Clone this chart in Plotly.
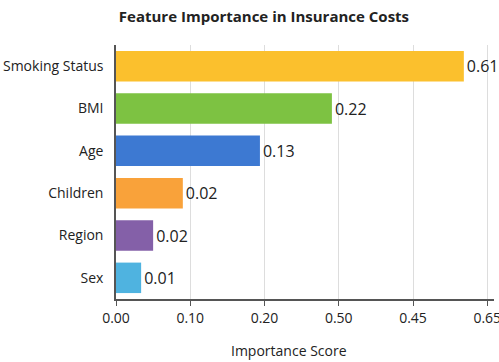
import plotly.graph_objects as go

features = ["Smoking Status", "BMI", "Age", "Children", "Region", "Sex"]
bar_lengths = [0.609, 0.378, 0.252, 0.117, 0.065, 0.044]
value_labels = ["0.61", "0.22", "0.13", "0.02", "0.02", "0.01"]
colors = ["#FBC02D", "#7DC242", "#3D79D2", "#F9A23A", "#8460A8", "#4FB3E0"]
tick_vals = [0.0, 0.13, 0.26, 0.39, 0.52, 0.65]
tick_text = ["0.00", "0.10", "0.20", "0.50", "0.45", "0.65"]

FONT = "Open Sans"

fig = go.Figure(go.Bar(
    y=features,
    x=bar_lengths,
    orientation="h",
    marker=dict(color=colors, line=dict(width=0)),
    text=value_labels,
    textposition="outside",
    textfont=dict(family=FONT, size=16, color="#222222"),
    cliponaxis=False,
    width=0.72,
))

fig.update_layout(
    width=499, height=362,
    margin=dict(l=116, r=5, t=45, b=63),
    paper_bgcolor="white",
    plot_bgcolor="white",
    font=dict(family=FONT, size=14, color="#222222"),
    title=dict(text="<b>Feature Importance in Insurance Costs</b>",
               x=0.529, xref="container", xanchor="center",
               y=0.955, yref="container", yanchor="middle",
               font=dict(family=FONT, size=15, color="#222222")),
    showlegend=False,
    annotations=[dict(text="Importance Score", xref="paper", yref="paper",
                      x=(289 - 116) / 378, y=(299 - 350) / 254,
                      xanchor="center", yanchor="middle", showarrow=False,
                      font=dict(family=FONT, size=14, color="#222222"))],
)

fig.update_xaxes(
    range=[0, 0.6618],
    tickvals=tick_vals, ticktext=tick_text,
    ticklabeloverflow="allow", automargin=False,
    showgrid=True, gridcolor="#DDDDDD", gridwidth=1,
    showline=True, linecolor="#555555", linewidth=1.5,
    ticks="outside", ticklen=5, tickcolor="#555555",
    tickfont=dict(family=FONT, size=14, color="#222222"),
    zeroline=False,
)
fig.update_yaxes(
    categoryorder="array", categoryarray=features[::-1],
    showline=True, linecolor="#555555", linewidth=1.5,
    ticks="", ticklabelstandoff=8, automargin=False,
    tickfont=dict(family=FONT, size=14, color="#222222"),
    showgrid=False,
)

fig.write_html("out.html")
